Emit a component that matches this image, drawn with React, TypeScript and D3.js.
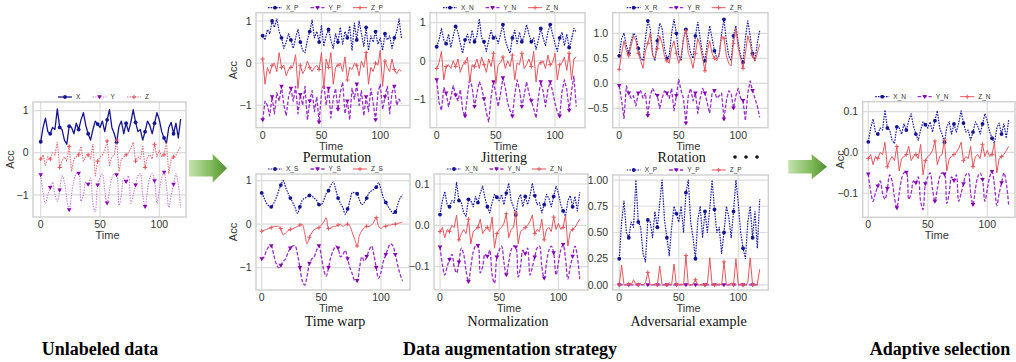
import React from "react";
import * as d3 from "d3";

// time axis: one sample every 2 steps
const TIME = d3.range(0, 120, 2);
const X_TICKS = [0, 50, 100];

// ---- Unlabeled data (original) ----
const X_ORIG = [
  0.26, 0.6, 0.82, 0.5, 0.45, 0.6, 0.55, 1.04, 0.6, 0.55,
  0.3, 0.2, 0.63, 0.6, 0.45, 0.7, 0.55, 0.78, 0.95, 0.65,
  0.45, 0.3, 0.55, 0.75, 0.68, 0.6, 0.75, 0.5, 0.78, 1.02,
  0.6, 0.45, 0.25, 0.62, 0.75, 0.45, 0.7, 0.5, 0.72, 1.02,
  0.72, 0.5, 0.55, 0.3, 0.5, 0.75, 0.65, 0.45, 0.7, 0.95,
  0.78, 0.5, 0.35, 0.22, 0.6, 0.72, 0.45, 0.7, 0.35, 0.8,
];
const Y_ORIG = [
  -0.53, -0.95, -1.2, -1.0, -0.83, -0.7, -1.0, -1.15, -0.89, -0.55,
  -0.7, -1.1, -1.36, -1.0, -0.65, -0.5, -0.49, -1.15, -1.0, -0.7,
  -0.75, -0.6, -1.2, -1.4, -0.77, -0.6, -0.5, -0.9, -1.2, -0.9,
  -0.6, -0.5, -0.53, -1.25, -1.0, -0.6, -0.69, -0.55, -1.2, -1.0,
  -0.77, -0.55, -0.5, -1.0, -1.28, -0.9, -0.6, -0.5, -0.67, -1.2,
  -0.9, -0.6, -0.47, -0.8, -1.3, -1.0, -0.75, -0.5, -0.75, -1.3,
];
const Z_ORIG = [
  -0.15, -0.05, -0.3, -0.1, -0.15, 0.0, -0.05, 0.25, -0.35, -0.2,
  -0.1, -0.2, 0.15, -0.45, -0.15, -0.1, -0.05, 0.15, -0.2, -0.1,
  -0.05, -0.15, 0.2, -0.55, -0.2, -0.1, -0.05, 0.05, 0.28, -0.3,
  -0.1, -0.05, 0.3, -0.45, -0.15, -0.1, -0.05, 0.0, 0.1, 0.25,
  -0.2, -0.1, -0.15, 0.15, -0.35, -0.1, -0.05, -0.15, 0.2, -0.1,
  0.05, -0.1, -0.05, 0.25, -0.5, -0.15, -0.1, -0.05, 0.05, 0.15,
];

// ---- Permutation ----
const X_P = [
  0.65, 0.55, 0.8, 0.7, 1.0, 0.85, 1.05, 0.75, 0.6, 0.35,
  0.5, 0.7, 0.55, 0.35, 0.6, 0.8, 0.5, 0.3, 0.25, 0.55,
  0.75, 1.02, 0.6, 0.75, 0.5, 0.9, 0.4, 0.65, 0.8, 0.55,
  0.35, 0.7, 0.5, 0.85, 0.45, 0.75, 0.6, 0.88, 0.3, 0.95,
  0.55, 1.0, 0.7, 0.4, 0.85, 0.3, 0.65, 0.5, 0.75, 0.45,
  0.6, 0.3, 0.7, 0.55, 0.65, 0.35, 0.6, 0.75, 1.05, 0.6,
];
const Y_P = [
  -1.35, -0.9, -1.0, -1.25, -0.8, -1.2, -0.7, -0.9, -0.55, -1.0,
  -1.25, -0.8, -0.6, -0.9, -0.55, -1.2, -0.75, -1.0, -0.55, -1.35,
  -0.9, -0.65, -1.15, -0.8, -1.4, -0.7, -0.5, -1.0, -0.6, -1.3,
  -0.85, -0.6, -1.1, -0.7, -0.45, -1.2, -0.9, -1.35, -0.6, -0.85,
  -0.5, -1.0, -0.65, -1.25, -0.8, -1.15, -0.6, -0.95, -1.35, -0.7,
  -0.5, -1.1, -0.8, -0.55, -1.2, -0.7, -0.55, -1.0, -0.85, -0.95,
];
const Z_P = [
  0.1, -0.5, -0.1, -0.25, -0.05, 0.0, -0.2, 0.25, -0.1, -0.05,
  -0.3, -0.15, -0.1, -0.05, 0.2, -0.6, -0.05, -0.25, -0.15, 0.05,
  -0.1, -0.2, -0.1, -0.05, -0.15, 0.25, -0.6, 0.1, -0.1, 0.25,
  -0.5, -0.1, -0.05, 0.0, -0.2, 0.15, -0.4, -0.1, -0.15, 0.0,
  -0.05, -0.3, 0.05, -0.1, 0.25, -0.5, -0.1, -0.2, 0.0, -0.05,
  0.3, -0.55, 0.05, -0.1, -0.2, 0.1, -0.15, -0.25, -0.15, -0.2,
];

// ---- Jittering ----
const X_J = [
  0.37, 0.55, 0.85, 0.55, 0.45, 0.7, 0.35, 0.65, 0.9, 0.75,
  0.45, 0.2, 0.55, 0.7, 0.45, 0.8, 0.5, 0.65, 1.1, 0.6,
  0.5, 0.25, 0.55, 0.8, 0.6, 0.65, 0.45, 0.7, 0.95, 0.55,
  0.35, 0.2, 0.6, 0.8, 0.45, 0.75, 0.5, 0.65, 0.95, 0.7,
  0.5, 0.6, 0.3, 0.55, 0.85, 0.6, 0.4, 0.75, 0.95, 0.7,
  0.45, 0.25, 0.6, 0.75, 0.4, 0.7, 0.35, 0.55, 0.85, 0.75,
];
const Y_J = [
  -0.5, -1.1, -1.3, -0.7, -0.85, -1.2, -0.95, -0.65, -0.9, -1.05,
  -0.75, -1.3, -1.45, -0.9, -0.45, -0.7, -1.2, -0.85, -0.55, -0.7,
  -1.0, -1.35, -1.6, -0.95, -0.55, -0.85, -1.2, -0.85, -0.45, -0.7,
  -1.1, -1.3, -1.45, -0.9, -0.5, -0.75, -1.2, -0.9, -0.55, -0.85,
  -1.05, -1.25, -1.5, -0.95, -0.55, -0.8, -1.2, -0.75, -0.55, -0.8,
  -1.1, -1.35, -1.45, -0.8, -0.5, -0.75, -1.3, -0.8, -0.4, -1.2,
];
const Z_J = [
  -0.2, -0.05, 0.25, -0.5, -0.15, -0.1, -0.2, 0.0, -0.15, 0.05,
  -0.3, -0.1, -0.05, 0.1, -0.55, -0.1, -0.15, 0.05, -0.2, 0.1,
  -0.1, -0.3, 0.05, -0.15, 0.2, -0.6, -0.1, -0.05, 0.1, -0.2,
  0.0, -0.15, 0.15, -0.5, -0.05, -0.1, 0.2, -0.2, -0.1, 0.05,
  -0.15, 0.25, -0.55, -0.1, -0.05, 0.0, -0.2, 0.15, -0.1, -0.05,
  0.2, -0.5, -0.1, -0.05, 0.1, -0.25, 0.2, -0.5, 0.05, 0.1,
];

// ---- Rotation ----
const X_R = [
  0.55, 0.9, 1.0, 0.75, 0.6, 0.85, 1.0, 0.95, 0.7, 0.5,
  0.45, 0.9, 1.25, 1.1, 0.6, 0.45, 0.85, 1.2, 1.1, 0.7,
  0.5, 0.55, 1.0, 1.28, 1.0, 0.55, 0.45, 0.9, 1.08, 0.85,
  0.6, 0.5, 0.95, 1.22, 0.9, 0.6, 0.45, 0.8, 1.15, 0.9,
  0.65, 0.5, 0.55, 1.0, 1.28, 0.85, 0.55, 0.45, 0.95, 1.15,
  0.8, 0.55, 0.42, 0.9, 1.25, 0.95, 0.6, 0.45, 0.8, 1.05,
];
const Y_R = [
  -0.05, -0.35, -0.7, -0.05, -0.2, -0.3, -0.25, -0.45, -0.2, -0.15,
  -0.3, -0.2, -0.65, -0.25, -0.1, -0.2, -0.25, -0.5, -0.3, -0.15,
  -0.2, -0.3, -0.1, -0.55, -0.25, 0.08, -0.15, -0.3, -0.8, -0.25,
  -0.1, -0.35, -0.2, -0.6, -0.3, -0.1, -0.2, -0.4, -0.6, -0.2,
  -0.15, -0.3, -0.25, -0.2, -0.72, -0.35, -0.15, -0.2, -0.5, -0.25,
  -0.1, -0.3, -0.35, -0.75, -0.2, 0.05, -0.15, -0.3, -0.45, -0.68,
];
const Z_R = [
  0.28, 0.6, 0.85, 0.65, 0.55, 0.75, 0.95, 0.85, 0.6, 0.45,
  0.3, 0.65, 0.8, 1.0, 0.55, 0.5, 0.7, 0.95, 0.8, 0.55,
  0.45, 0.4, 0.7, 0.85, 0.6, 0.4, 0.55, 0.9, 1.05, 0.6,
  0.5, 0.3, 0.6, 0.9, 0.75, 0.5, 0.25, 0.65, 0.85, 0.6,
  0.5, 0.45, 0.6, 0.95, 0.9, 0.55, 0.4, 0.35, 0.8, 1.1,
  0.7, 0.5, 0.3, 0.6, 0.95, 0.8, 0.55, 0.45, 0.6, 0.78,
];

// ---- Time warp ----
const X_S = [
  0.72, 0.6, 0.48, 0.42, 0.4, 0.48, 0.6, 0.75, 0.9, 1.0,
  0.85, 0.72, 0.6, 0.5, 0.38, 0.25, 0.4, 0.55, 0.6, 0.62,
  0.66, 0.65, 0.6, 0.55, 0.45, 0.45, 0.55, 0.7, 0.77, 0.9,
  0.97, 0.8, 0.6, 0.48, 0.38, 0.23, 0.35, 0.55, 0.73, 0.72,
  0.7, 0.55, 0.45, 0.5, 0.6, 0.72, 0.77, 0.8, 0.85, 0.95,
  0.8, 0.6, 0.5, 0.4, 0.32, 0.25, 0.28, 0.45, 0.6, 0.68,
];
const Y_S = [
  -0.8, -0.75, -0.6, -0.52, -0.5, -0.7, -0.9, -1.0, -0.95, -0.85,
  -0.8, -0.65, -0.55, -0.5, -0.5, -0.7, -1.0, -1.3, -1.4, -1.2,
  -0.9, -0.8, -0.75, -0.6, -0.5, -0.75, -1.05, -1.2, -1.0, -0.75,
  -0.6, -0.5, -0.55, -0.75, -0.7, -0.6, -0.8, -1.0, -1.15, -1.3,
  -1.3, -1.0, -0.75, -0.85, -0.75, -0.6, -0.5, -0.7, -1.0, -1.25,
  -1.1, -0.85, -0.7, -0.55, -0.45, -0.5, -0.7, -0.95, -1.15, -1.3,
];
const Z_S = [
  -0.16, -0.14, -0.12, -0.1, -0.08, -0.05, -0.05, -0.05, -0.1, -0.25,
  -0.2, -0.15, -0.12, -0.1, -0.08, -0.05, -0.02, 0.0, -0.2, -0.45,
  -0.3, -0.2, -0.12, -0.1, -0.08, -0.02, 0.05, 0.15, -0.1, -0.08,
  -0.05, -0.05, -0.02, 0.0, -0.05, -0.02, 0.0, -0.05, -0.2, -0.35,
  -0.5, -0.25, -0.15, -0.08, -0.05, -0.05, -0.02, 0.05, 0.15, -0.05,
  -0.1, -0.05, -0.05, -0.02, -0.02, 0.0, 0.0, 0.02, 0.03, 0.05,
];

// ---- Normalization (also the adaptive selection) ----
const X_N = [
  0.026, 0.06, 0.082, 0.05, 0.045, 0.06, 0.055, 0.104, 0.06, 0.055,
  0.03, 0.022, 0.063, 0.06, 0.045, 0.07, 0.055, 0.078, 0.095, 0.065,
  0.045, 0.03, 0.055, 0.075, 0.068, 0.06, 0.075, 0.05, 0.078, 0.102,
  0.06, 0.045, 0.025, 0.062, 0.075, 0.045, 0.07, 0.05, 0.072, 0.102,
  0.072, 0.05, 0.055, 0.03, 0.05, 0.075, 0.065, 0.045, 0.07, 0.095,
  0.078, 0.05, 0.035, 0.022, 0.06, 0.072, 0.045, 0.07, 0.035, 0.08,
];
const Y_N = [
  -0.053, -0.095, -0.12, -0.1, -0.083, -0.07, -0.1, -0.115, -0.089, -0.055,
  -0.07, -0.11, -0.136, -0.1, -0.065, -0.05, -0.049, -0.115, -0.1, -0.07,
  -0.075, -0.06, -0.12, -0.14, -0.077, -0.06, -0.05, -0.09, -0.12, -0.09,
  -0.06, -0.05, -0.053, -0.125, -0.1, -0.06, -0.069, -0.055, -0.12, -0.1,
  -0.077, -0.055, -0.05, -0.1, -0.128, -0.09, -0.06, -0.05, -0.067, -0.12,
  -0.09, -0.06, -0.047, -0.08, -0.13, -0.1, -0.075, -0.05, -0.075, -0.13,
];
const Z_N = [
  -0.015, -0.005, -0.03, -0.01, -0.015, 0.0, -0.005, 0.025, -0.035, -0.02,
  -0.01, -0.02, 0.015, -0.045, -0.015, -0.01, -0.005, 0.015, -0.02, -0.01,
  -0.005, -0.015, 0.02, -0.055, -0.02, -0.01, -0.005, 0.005, 0.028, -0.03,
  -0.01, -0.005, 0.03, -0.045, -0.015, -0.01, -0.005, 0.0, 0.01, 0.025,
  -0.02, -0.01, -0.015, 0.015, -0.035, -0.01, -0.005, -0.015, 0.02, -0.01,
  0.005, -0.01, -0.005, 0.025, -0.05, -0.015, -0.01, -0.005, 0.005, 0.015,
];

// ---- Adversarial example ----
const X_A = [
  0.25, 0.6, 0.8, 0.5, 0.45, 0.6, 0.55, 1.0, 0.6, 0.55,
  0.3, 0.22, 0.62, 0.6, 0.45, 0.7, 0.55, 0.78, 1.0, 0.62,
  0.45, 0.28, 0.55, 0.75, 0.68, 0.6, 0.75, 0.5, 0.88, 1.0,
  0.6, 0.45, 0.25, 0.62, 0.75, 0.45, 0.7, 0.5, 0.72, 1.0,
  0.72, 0.5, 0.55, 0.3, 0.5, 0.75, 0.65, 0.45, 0.7, 1.0,
  0.78, 0.5, 0.35, 0.25, 0.6, 0.75, 0.45, 0.7, 0.35, 0.82,
];
const Y_A = [
  0, 0, 0, 0, 0, 0, 0, 0, 0, 0,
  0, 0, 0, 0, 0, 0, 0, 0, 0, 0,
  0, 0, 0, 0, 0, 0, 0, 0, 0, 0,
  0, 0, 0, 0, 0, 0, 0, 0, 0, 0,
  0, 0, 0, 0, 0, 0, 0, 0, 0, 0,
  0, 0, 0, 0, 0, 0, 0, 0, 0, 0,
];
const Z_A = [
  0, 0.19, 0, 0, 0.01, 0, 0.05, 0, 0, 0.01,
  0, 0.02, 0.12, 0, 0, 0.01, 0, 0.18, 0, 0,
  0, 0.02, 0, 0.2, 0, 0, 0.01, 0, 0.28, 0,
  0, 0.01, 0.05, 0, 0, 0.01, 0, 0, 0.26, 0,
  0, 0, 0.01, 0, 0.22, 0, 0, 0.02, 0, 0.25,
  0, 0.01, 0, 0, 0.02, 0.26, 0, 0, 0.01, 0.15,
];

type Style = "orig" | "aug";
interface PanelCfg {
  frame: [number, number, number, number];
  xDomain: [number, number];
  yDomain: [number, number];
  yTicks: number[];
  yDigits: number;
  names: string[];
  data: number[][];
  style: Style;
  yLabel: boolean;
  smooth: boolean[];
  legendOffset: number;
  legendStep: number;
  caption?: string;
  captionPos?: [number, number];
}

const PANELS: PanelCfg[] = [
  {
    frame: [33, 102, 186, 217], xDomain: [-6.5, 122.5], yDomain: [1.203, -1.525],
    yTicks: [1, 0, -1], yDigits: 0, names: ["X", "Y", "Z"], data: [X_ORIG, Y_ORIG, Z_ORIG],
    style: "orig", yLabel: true, smooth: [false, true, false], legendOffset: 25, legendStep: 34.5,
  },
  {
    frame: [256, 12.7, 410, 127.7], xDomain: [-5.7, 125.3], yDomain: [1.197, -1.531],
    yTicks: [1, 0, -1], yDigits: 0, names: ["X_P", "Y_P", "Z_P"], data: [X_P, Y_P, Z_P],
    style: "aug", yLabel: true, smooth: [false, false, false], legendOffset: 12, legendStep: 42.5,
    caption: "Permutation", captionPos: [337, 162],
  },
  {
    frame: [430, 12.7, 585, 127.7], xDomain: [-5.66, 125.4], yDomain: [1.262, -1.752],
    yTicks: [1, 0, -1], yDigits: 0, names: ["X_N", "Y_N", "Z_N"], data: [X_J, Y_J, Z_J],
    style: "aug", yLabel: false, smooth: [false, false, false], legendOffset: 13, legendStep: 42.5,
    caption: "Jittering", captionPos: [504, 162],
  },
  {
    frame: [612.7, 12.7, 768, 127.7], xDomain: [-5.5, 125], yDomain: [1.412, -0.888],
    yTicks: [1, 0.5, 0, -0.5], yDigits: 1, names: ["X_R", "Y_R", "Z_R"], data: [X_R, Y_R, Z_R],
    style: "aug", yLabel: false, smooth: [false, false, false], legendOffset: 14, legendStep: 42.5,
    caption: "Rotation", captionPos: [681.7, 162],
  },
  {
    frame: [256, 174, 410, 290], xDomain: [-4.8, 124.3], yDomain: [1.154, -1.513],
    yTicks: [1, 0, -1], yDigits: 0, names: ["X_S", "Y_S", "Z_S"], data: [X_S, Y_S, Z_S],
    style: "aug", yLabel: true, smooth: [true, true, true], legendOffset: 12, legendStep: 42.5,
    caption: "Time warp", captionPos: [335, 325.5],
  },
  {
    frame: [434, 174, 588, 290], xDomain: [-5.1, 125], yDomain: [0.1242, -0.1563],
    yTicks: [0.1, 0, -0.1], yDigits: 1, names: ["X_N", "Y_N", "Z_N"], data: [X_N, Y_N, Z_N],
    style: "aug", yLabel: false, smooth: [false, true, false], legendOffset: 13, legendStep: 42.5,
    caption: "Normalization", captionPos: [508, 325.5],
  },
  {
    frame: [612.7, 175, 768.3, 290], xDomain: [-5.5, 125.2], yDomain: [1.048, -0.048],
    yTicks: [1, 0.75, 0.5, 0.25, 0], yDigits: 2, names: ["X_P", "Y_P", "Z_P"], data: [X_A, Y_A, Z_A],
    style: "aug", yLabel: false, smooth: [false, false, false], legendOffset: 14, legendStep: 42.5,
    caption: "Adversarial example", captionPos: [688.5, 325.5],
  },
  {
    frame: [862.7, 101.7, 1015, 217.3], xDomain: [-4.7, 123.3], yDomain: [0.1245, -0.159],
    yTicks: [0.1, 0, -0.1], yDigits: 1, names: ["X_N", "Y_N", "Z_N"], data: [X_N, Y_N, Z_N],
    style: "aug", yLabel: true, smooth: [false, true, false], legendOffset: 12.5, legendStep: 42.5,
  },
];

const SANS = "'Liberation Sans', Arial, Helvetica, sans-serif";
const SERIF = "'Liberation Serif', 'Times New Roman', Times, serif";
const TICK_COLOR = "#333333";

interface LineStyle { stroke: string; width: number; dash?: string; marker: "circle" | "tri" | "plus"; markerColor: string }

function styleFor(style: Style, i: number): LineStyle {
  if (style === "orig") {
    if (i === 0) return { stroke: "#161690", width: 1.3, marker: "circle", markerColor: "#161690" };
    if (i === 1) return { stroke: "#c77ddc", width: 1.1, dash: "1.4,1.2", marker: "tri", markerColor: "#8a00b0" };
    return { stroke: "#e46a72", width: 1.1, dash: "1.4,1.2", marker: "plus", markerColor: "#e0505a" };
  }
  if (i === 0) return { stroke: "#1c1ca0", width: 1.2, dash: "1.6,1.1", marker: "circle", markerColor: "#141490" };
  if (i === 1) return { stroke: "#9a2ec8", width: 1.3, dash: "3.6,1.8", marker: "tri", markerColor: "#8400b0" };
  return { stroke: "#e5575e", width: 1.0, marker: "plus", markerColor: "#e5575e" };
}

function Marker({ kind, x, y, color }: { kind: string; x: number; y: number; color: string }) {
  if (kind === "circle") return <circle cx={x} cy={y} r={1.9} fill={color} />;
  if (kind === "tri")
    return <path d={`M${x - 2.3},${y - 1.7}L${x + 2.3},${y - 1.7}L${x},${y + 2.3}Z`} fill={color} />;
  return <path d={`M${x - 2.1},${y}H${x + 2.1}M${x},${y - 2.1}V${y + 2.1}`} stroke={color} strokeWidth={1} />;
}

function Panel({ cfg }: { cfg: PanelCfg }) {
  const [l, t, r, b] = cfg.frame;
  const x = d3.scaleLinear().domain(cfg.xDomain).range([l, r]);
  const y = d3.scaleLinear().domain(cfg.yDomain).range([t, b]);
  const fmt = d3.format(`.${cfg.yDigits}f`);
  const gridColor = "#dcdcdc";
  return (
    <g>
      <rect x={l} y={t} width={r - l} height={b - t} fill="#ffffff" />
      {X_TICKS.map((v) => (
        <line key={"gx" + v} x1={x(v)} x2={x(v)} y1={t} y2={b} stroke={gridColor} strokeWidth={1.2} />
      ))}
      {cfg.yTicks.map((v) => (
        <line key={"gy" + v} x1={l} x2={r} y1={y(v)} y2={y(v)} stroke={gridColor} strokeWidth={1.2} />
      ))}
      <rect x={l} y={t} width={r - l} height={b - t} fill="none" stroke="#cfcfcf" strokeWidth={1.4} />
      {cfg.data.map((vals, i) => {
        const st = styleFor(cfg.style, i);
        const gen = d3
          .line<number>()
          .x((_, k) => x(TIME[k]))
          .y((d) => y(d))
          .curve(cfg.smooth[i] ? d3.curveCatmullRom : d3.curveLinear);
        return (
          <g key={"s" + i}>
            <path d={gen(vals) || ""} fill="none" stroke={st.stroke} strokeWidth={st.width}
              strokeDasharray={st.dash} strokeLinejoin="round" />
            {vals.map((v, k) =>
              k % 4 === 0 ? <Marker key={k} kind={st.marker} x={x(TIME[k])} y={y(v)} color={st.markerColor} /> : null
            )}
          </g>
        );
      })}
      {X_TICKS.map((v) => (
        <text key={"tx" + v} x={x(v)} y={b + 11} textAnchor="middle" fontFamily={SANS} fontSize={10.5} fill={TICK_COLOR}>
          {v}
        </text>
      ))}
      {cfg.yTicks.map((v) => (
        <text key={"ty" + v} x={l - 4.5} y={y(v) + 3.7} textAnchor="end" fontFamily={SANS} fontSize={10.5} fill={TICK_COLOR}>
          {fmt(v)}
        </text>
      ))}
      <text x={(l + r) / 2 - 2} y={b + 22} textAnchor="middle" fontFamily={SANS} fontSize={11} fill={TICK_COLOR}>
        Time
      </text>
      {cfg.yLabel && (
        <text transform={`translate(${l - 19},${(t + b) / 2}) rotate(-90)`} textAnchor="middle"
          fontFamily={SANS} fontSize={11} fill={TICK_COLOR}>
          Acc
        </text>
      )}
      {cfg.names.map((n, i) => {
        const st = styleFor(cfg.style, i);
        const lx = l + cfg.legendOffset + i * cfg.legendStep;
        const ly = t - 5;
        return (
          <g key={"lg" + i}>
            <line x1={lx} x2={lx + 14} y1={ly} y2={ly} stroke={st.stroke} strokeWidth={st.width} strokeDasharray={st.dash} />
            <Marker kind={st.marker} x={lx + 7} y={ly} color={st.markerColor} />
            <text x={lx + 18} y={ly + 2.2} fontFamily={SANS} fontSize={6.5} fill={TICK_COLOR}>
              {n}
            </text>
          </g>
        );
      })}
      {cfg.caption && cfg.captionPos && (
        <text x={cfg.captionPos[0]} y={cfg.captionPos[1]} textAnchor="middle" fontFamily={SERIF} fontSize={14} fill="#111">
          {cfg.caption}
        </text>
      )}
    </g>
  );
}

function Arrow({ x0, x1, x2, yc, sh, hh, id }: { x0: number; x1: number; x2: number; yc: number; sh: number; hh: number; id: string }) {
  const d = `M${x0},${yc - sh}L${x1},${yc - sh}L${x1},${yc - hh}L${x2},${yc}L${x1},${yc + hh}L${x1},${yc + sh}L${x0},${yc + sh}Z`;
  return (
    <g>
      <defs>
        <linearGradient id={id} x1="0" x2="1" y1="0" y2="0">
          <stop offset="0" stopColor="#c4e2ae" />
          <stop offset="0.6" stopColor="#7fb95a" />
          <stop offset="1" stopColor="#4f8f2e" />
        </linearGradient>
      </defs>
      <path d={d} fill={`url(#${id})`} />
    </g>
  );
}

export default function App() {
  return (
    <svg width={1016} height={362} style={{ position: "absolute", left: 0, top: 0 }}>
      <rect x={0} y={0} width={1016} height={362} fill="#ffffff" />
      {PANELS.map((p, i) => (
        <Panel key={i} cfg={p} />
      ))}
      <Arrow x0={189} x1={212.7} x2={227} yc={168.3} sh={8.3} hh={14.3} id="ga1" />
      <Arrow x0={788.3} x1={811.7} x2={827} yc={166.7} sh={6.7} hh={12.5} id="ga2" />
      {[735, 746, 757].map((cx) => (
        <circle key={cx} cx={cx} cy={157} r={1.8} fill="#111" />
      ))}
      <text x={100} y={355} textAnchor="middle" fontFamily={SERIF} fontWeight="bold" fontSize={18} fill="#000">
        Unlabeled data
      </text>
      <text x={510} y={355} textAnchor="middle" fontFamily={SERIF} fontWeight="bold" fontSize={18} fill="#000">
        Data augmentation strategy
      </text>
      <text x={940} y={355} textAnchor="middle" fontFamily={SERIF} fontWeight="bold" fontSize={18} fill="#000">
        Adaptive selection
      </text>
    </svg>
  );
}
